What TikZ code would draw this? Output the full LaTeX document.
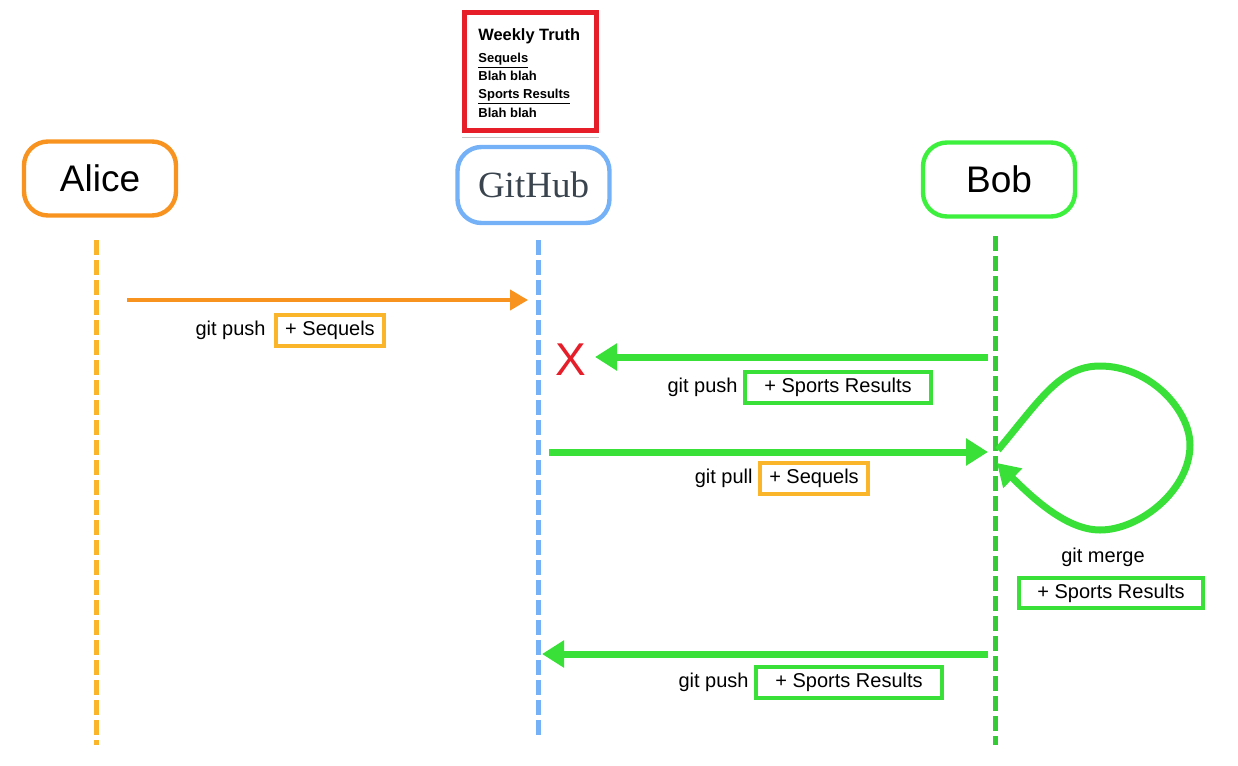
\documentclass[tikz,border=0pt]{standalone}
\usepackage{fontspec}
\setmainfont{Liberation Sans}
\newfontfamily\hubfont{Liberation Serif}
\usetikzlibrary{arrows.meta,positioning}

\definecolor{aliceorange}{HTML}{F7931E}
\definecolor{seqyellow}{HTML}{FBB52B}
\definecolor{hubblue}{HTML}{74B1F7}
\definecolor{bobgreen}{HTML}{3DF03D}
\definecolor{msggreen}{HTML}{38E038}
\definecolor{paperred}{HTML}{E61E2A}
\definecolor{hubtext}{HTML}{3A444E}

\tikzset{
  actor/.style={draw, line width=2.2pt, rounded corners=12pt, minimum width=76pt, minimum height=37pt, font=\fontsize{18.5}{22}\selectfont},
  lifeline/.style={line width=2.5pt, dash pattern=on 7.5pt off 2.5pt},
  msg/.style={line width=3.5pt, msggreen, -{Triangle[length=11pt,width=13pt]}},
  change/.style={draw, line width=2pt, minimum height=15.5pt, inner sep=0pt, font=\fontsize{10}{12}\selectfont},
  gitlabel/.style={inner sep=0pt, font=\fontsize{10}{12}\selectfont},
  papertext/.style={anchor=base west, inner sep=0pt, font=\bfseries\fontsize{6.5}{7}\selectfont},
}

\begin{document}
\begin{tikzpicture}[x=0.5pt,y=-0.5pt]
		\useasboundingbox (0,0) rectangle (1238,766);
		
		% the three parties
		\node[actor, draw=aliceorange] (alice) at (100,178.5) {Alice};
		\node[actor, draw=hubblue, minimum height=38pt, font=\hubfont\fontsize{18.5}{22}\selectfont, text=hubtext] (github) at (533.5,185) {GitHub};
		\node[actor, draw=bobgreen] (bob) at (999,179.5) {Bob};
		
		% the newspaper on GitHub
		\node[draw=paperred, line width=2.5pt, minimum width=66pt, minimum height=59pt] (paper) at (530.5,71.5) {};
		\draw[gray!45, line width=0.6pt] ([yshift=-2.2pt]paper.south west) -- ([yshift=-2.2pt]paper.south east);
		\node[papertext, font=\bfseries\fontsize{8.2}{10}\selectfont] (paper-title) at (478,40) {Weekly Truth};
		\node[papertext] (paper-sec1) at (478,62) {\underline{Sequels}};
		\node[papertext] (paper-txt1) at (478,80) {Blah blah};
		\node[papertext] (paper-sec2) at (478,98) {\underline{Sports Results}};
		\node[papertext] (paper-txt2) at (478,117) {Blah blah};
		
		% lifelines
		\coordinate (alice-top) at (96,240);
		\coordinate (alice-end) at (96,745);
		\coordinate (github-top) at (538,240);
		\coordinate (github-end) at (538,740);
		\coordinate (bob-top) at (995,236);
		\coordinate (bob-end) at (995,745);
		\draw[lifeline, seqyellow] (alice-top) -- (alice-end);
		\draw[lifeline, hubblue] (github-top) -- (github-end);
		\draw[lifeline, bobgreen!85!black!100] (bob-top) -- (bob-end);
		
		% Alice pushes
		\coordinate (alice-push) at (127,300);
		\coordinate (github-push) at (528,300);
		\draw[line width=2pt, aliceorange, -{Triangle[length=9pt,width=10pt]}] (alice-push) -- (github-push);
		\node[change, draw=seqyellow, minimum width=54pt] (push1-box) at (330,330.5) {+ Sequels};
		\node[gitlabel, left=4pt of push1-box] (push1-label) {git push};
		
		% Bob pushes, rejected
		\node[text=paperred, inner sep=0pt, font=\fontsize{23}{26}\selectfont] (xmark) at (571,360) {X};
		\coordinate (bob-push) at (988,357);
		\coordinate (github-reject) at (595,357);
		\draw[msg] (bob-push) -- (github-reject);
		\node[change, draw=msggreen, minimum width=93pt] (push2-box) at (838,387.5) {+ Sports Results};
		\node[gitlabel, left=2.5pt of push2-box] (push2-label) {git push};
		
		% Bob pulls
		\coordinate (github-pull) at (549,452);
		\coordinate (bob-pull) at (988,452);
		\draw[msg] (github-pull) -- (bob-pull);
		\node[change, draw=seqyellow, minimum width=54pt] (pull-box) at (814,478.5) {+ Sequels};
		\node[gitlabel, left=2.5pt of pull-box] (pull-label) {git pull};
		
		% Bob merges
		\coordinate (bob-merge-out) at (998,450);
		\coordinate (bob-merge-in) at (997,463);
		\draw[msg] (bob-merge-out) .. controls (1040,400) and (1060,366) .. (1100,366)
			.. controls (1150,366) and (1190,410) .. (1190,445)
			.. controls (1190,490) and (1140,530) .. (1100,530)
			.. controls (1065,530) and (1030,495) .. (bob-merge-in);
		\node[gitlabel] (merge-label) at (1103,557) {git merge};
		\node[change, draw=msggreen, minimum width=92pt, minimum height=15pt] (merge-box) at (1111,593) {+ Sports Results};
		
		% Bob pushes again
		\coordinate (bob-push2) at (988,654);
		\coordinate (github-push2) at (542,654);
		\draw[msg] (bob-push2) -- (github-push2);
		\node[change, draw=msggreen, minimum width=93pt] (push3-box) at (849,682.5) {+ Sports Results};
		\node[gitlabel, left=2.5pt of push3-box] (push3-label) {git push};
		
\end{tikzpicture}
\end{document}
